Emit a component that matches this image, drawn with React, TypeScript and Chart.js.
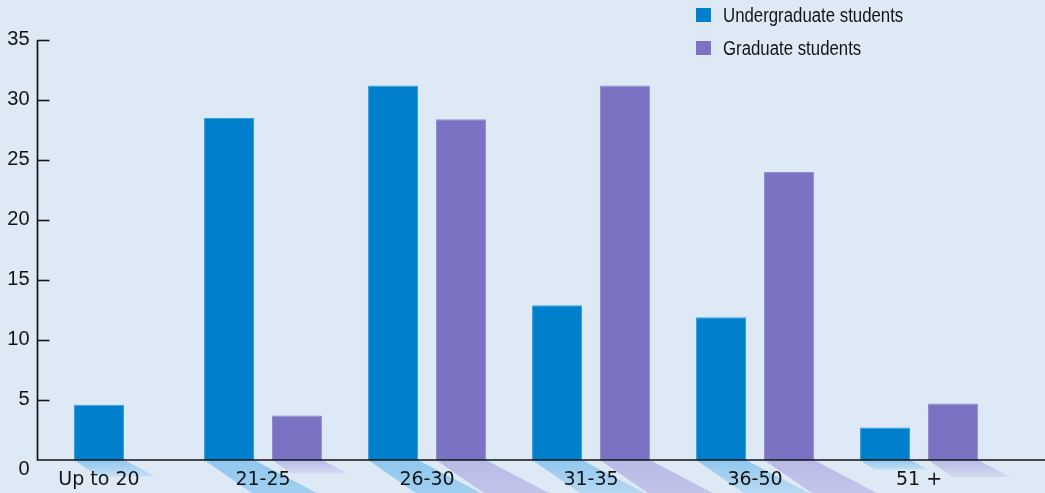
import React, { useEffect, useRef } from "react";
import { Chart, registerables } from "chart.js";

Chart.register(...registerables);

// ---- data ----
const categories = ["Up to 20", "21-25", "26-30", "31-35", "36-50", "51 +"];
const undergraduate = [4.6, 28.5, 31.2, 12.9, 11.9, 2.7];
const graduate = [null, 3.7, 28.4, 31.2, 24.0, 4.7];
const seriesLabels = ["Undergraduate students", "Graduate students"];
const yMin = 0;
const yMax = 35;
const yStep = 5;

// ---- styling ----
const W = 1045;
const H = 493;
const BG = "#dee9f6";
const barColors = ["#007fcc", "#7b72c4"];
const barEdges = ["#3b9edb", "#918bd2"];
const shadowTop = ["rgba(140,198,238,0.95)", "rgba(182,184,230,0.95)"];
const shadowBottom = ["rgba(140,198,238,0.3)", "rgba(182,184,230,0.3)"];
const Y_AXIS_AT = -0.378; // y axis sits a little left of the first category
const INK = "#141414";
const TICK_FONT = '20px "Liberation Sans", Arial, sans-serif';

const decor = {
  id: "decor",
  beforeDraw(chart: any) {
    const { ctx, width, height } = chart;
    ctx.save();
    ctx.fillStyle = BG;
    ctx.fillRect(0, 0, width, height);
    chart.data.datasets.forEach((_ds: any, di: number) => {
      const meta = chart.getDatasetMeta(di);
      meta.data.forEach((el: any) => {
        const { x, y, base, width: w } = el.getProps(["x", "y", "base", "width"], true);
        if (!isFinite(x) || !isFinite(y) || !isFinite(base)) return;
        const h = base - y;
        if (h < 1) return;
        const d = h * 0.3;
        const x0 = x - w / 2;
        const x1 = x + w / 2;
        const g = ctx.createLinearGradient(0, base, 0, base + d);
        g.addColorStop(0, shadowTop[di]);
        g.addColorStop(1, shadowBottom[di]);
        ctx.fillStyle = g;
        ctx.beginPath();
        ctx.moveTo(x0, base);
        ctx.lineTo(x1, base);
        ctx.lineTo(x1 + 1.9 * d, base + d);
        ctx.lineTo(x0 + 1.45 * d, base + d);
        ctx.closePath();
        ctx.fill();
      });
    });
    ctx.restore();
  },
  afterDraw(chart: any) {
    const { ctx, width } = chart;
    const xs = chart.scales.x;
    const ys = chart.scales.y;
    const ax = Math.round(xs.getPixelForValue(Y_AXIS_AT)) + 0.5;
    const y0 = ys.getPixelForValue(yMin);
    const yTop = ys.getPixelForValue(yMax);
    ctx.save();
    ctx.strokeStyle = INK;
    ctx.lineWidth = 1.7;
    ctx.beginPath();
    ctx.moveTo(ax, yTop);
    ctx.lineTo(ax, y0);
    ctx.lineTo(width, y0);
    ctx.stroke();
    ctx.lineWidth = 1.6;
    ctx.font = TICK_FONT;
    ctx.fillStyle = INK;
    ctx.textAlign = "right";
    ctx.textBaseline = "middle";
    ys.ticks.forEach((t: any) => {
      const py = Math.round(ys.getPixelForValue(t.value)) + 0.5;
      const label = String(t.label);
      if (t.value <= yMin) {
        ctx.fillText(label, ax - 8, py + 9);
        return;
      }
      ctx.beginPath();
      ctx.moveTo(ax, py);
      ctx.lineTo(ax + 12, py);
      ctx.stroke();
      ctx.fillText(label, ax - 8, py - 1);
    });
    // legend
    ctx.textAlign = "left";
    ctx.textBaseline = "middle";
    chart.data.datasets.forEach((ds: any, i: number) => {
      const cy = 15 + i * 33;
      ctx.fillStyle = ds.backgroundColor;
      ctx.fillRect(696, cy - 7, 15, 14);
      ctx.save();
      ctx.translate(723, cy + 1);
      ctx.scale(0.84, 1);
      ctx.font = '20px "Liberation Sans", Arial, sans-serif';
      ctx.fillStyle = INK;
      ctx.fillText(ds.label, 0, 0);
      ctx.restore();
    });
    ctx.restore();
  },
};

export default function App() {
  const ref = useRef<HTMLCanvasElement | null>(null);
  useEffect(() => {
    document.body.style.margin = "0";
    document.body.style.background = BG;
    if (!ref.current) return;
    const chart = new Chart(ref.current, {
      type: "bar",
      data: {
        labels: categories,
        datasets: [
          {
            label: seriesLabels[0],
            data: undergraduate,
            backgroundColor: barColors[0],
            borderColor: barEdges[0],
            borderWidth: { left: 1, right: 1, top: 1, bottom: 0 },
          },
          {
            label: seriesLabels[1],
            data: graduate as any,
            backgroundColor: barColors[1],
            borderColor: barEdges[1],
            borderWidth: { left: 1, right: 1, top: 1, bottom: 0 },
          },
        ],
      },
      options: {
        animation: false,
        responsive: false,
        devicePixelRatio: 1,
        layout: { padding: { top: 40, left: 17, right: 44, bottom: 0 } },
        datasets: {
          bar: {
            skipNull: true,
            categoryPercentage: 0.829,
            barPercentage: 0.735,
            maxBarThickness: 50,
          } as any,
        },
        plugins: {
          legend: { display: false },
          tooltip: { enabled: false },
        },
        scales: {
          x: {
            type: "category",
            offset: true,
            grid: { display: false, drawTicks: false },
            border: { display: false },
            ticks: {
              color: INK,
              padding: 9,
              maxRotation: 0,
              autoSkip: false,
              font: { family: '"DejaVu Sans", sans-serif', size: 19 },
            },
            afterFit: (s: any) => {
              s.height = 33;
            },
          },
          y: {
            position: { x: Y_AXIS_AT } as any,
            min: yMin,
            max: yMax,
            grid: { display: false, drawTicks: false },
            border: { display: false },
            ticks: {
              display: false,
              stepSize: yStep,
            },
          },
        },
      },
      plugins: [decor],
    });
    return () => chart.destroy();
  }, []);
  return (
    <div style={{ width: W, height: H, background: BG }}>
      <canvas ref={ref} width={W} height={H} style={{ display: "block" }} />
    </div>
  );
}
